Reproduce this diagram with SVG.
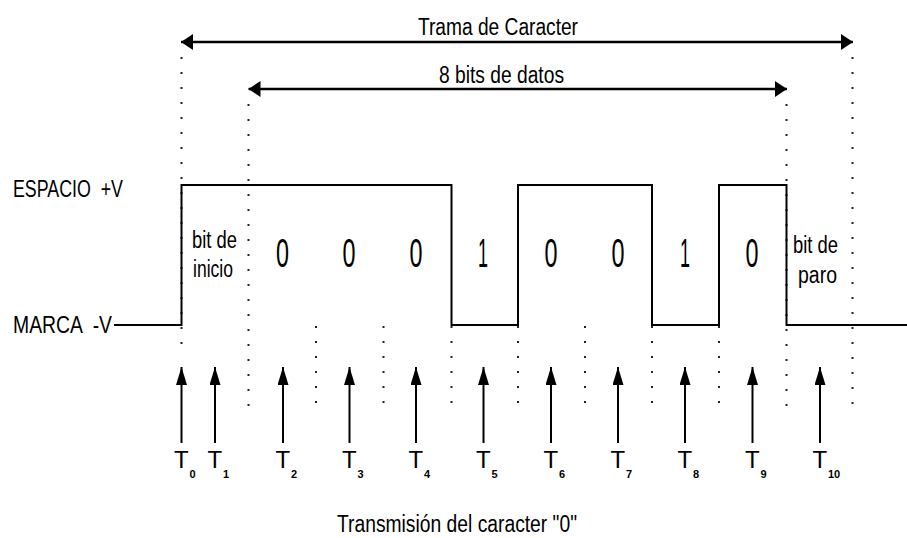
<svg xmlns="http://www.w3.org/2000/svg" width="907" height="538" viewBox="0 0 907 538">
<defs>
<marker id="hArrow" markerUnits="userSpaceOnUse" markerWidth="14" markerHeight="18" refX="12" refY="8" orient="auto-start-reverse" viewBox="0 0 14 18">
<path d="M0,0 L12,8 L0,16 Z" fill="#000"/>
</marker>
<marker id="vArrow" markerUnits="userSpaceOnUse" markerWidth="20" markerHeight="12" refX="18" refY="5.5" orient="auto" viewBox="0 0 20 12">
<path d="M0,0 L18,5.5 L0,11 Z" fill="#000"/>
</marker>
<style>
.txt{font-family:"Liberation Sans",Arial,sans-serif;fill:#000}
.lbl{font-size:23px}
.dig{font-size:40px;text-anchor:middle}
.tt{font-size:24px}
.sub{font-size:11px;font-weight:bold}
.dot{stroke:#222;stroke-width:2;stroke-dasharray:2 13;fill:none}
.sig{stroke:#000;stroke-width:2;fill:none}
.dim{stroke:#000;stroke-width:2.5;fill:none}
.tarr{stroke:#000;stroke-width:2;fill:none;marker-end:url(#vArrow)}
</style>
</defs>
<rect width="907" height="538" fill="#fff"/>

<g id="guides">
<line class="dot" x1="181.5" y1="57" x2="181.5" y2="356"/>
<line class="dot" x1="248.5" y1="104" x2="248.5" y2="416"/>
<line class="dot" x1="316" y1="326" x2="316" y2="416"/>
<line class="dot" x1="383.5" y1="326" x2="383.5" y2="416"/>
<line class="dot" x1="451.5" y1="326" x2="451.5" y2="416"/>
<line class="dot" x1="518" y1="326" x2="518" y2="416"/>
<line class="dot" x1="585" y1="326" x2="585" y2="416"/>
<line class="dot" x1="652" y1="326" x2="652" y2="416"/>
<line class="dot" x1="719" y1="326" x2="719" y2="416"/>
<line class="dot" x1="786.5" y1="104" x2="786.5" y2="416"/>
<line class="dot" x1="852.5" y1="57" x2="852.5" y2="412"/>
</g>

<g id="trama">
<line class="dim" x1="181" y1="42" x2="853" y2="42" marker-start="url(#hArrow)" marker-end="url(#hArrow)"/>
<text class="txt lbl" x="418" y="35" textLength="160" lengthAdjust="spacingAndGlyphs">Trama de Caracter</text>
</g>

<g id="databits">
<line class="dim" x1="248.5" y1="89" x2="787" y2="89" marker-start="url(#hArrow)" marker-end="url(#hArrow)"/>
<text class="txt lbl" x="439" y="83" textLength="125" lengthAdjust="spacingAndGlyphs">8 bits de datos</text>
</g>

<g id="levels">
<text class="txt lbl" x="13" y="197" xml:space="preserve" textLength="110" lengthAdjust="spacingAndGlyphs">ESPACIO  +V</text>
<text class="txt lbl" x="13" y="333" xml:space="preserve" textLength="99" lengthAdjust="spacingAndGlyphs">MARCA  -V</text>
</g>

<g id="signal">
<polyline class="sig" points="114,325 181.5,325 181.5,185 451.5,185 451.5,325 518,325 518,185 652,185 652,325 719,325 719,185 786.5,185 786.5,325 907,325"/>
</g>

<g id="bits">
<text class="txt lbl" x="192" y="248" textLength="45" lengthAdjust="spacingAndGlyphs">bit de</text>
<text class="txt lbl" x="193" y="277" textLength="40" lengthAdjust="spacingAndGlyphs">inicio</text>
<text class="txt dig" x="282.5" y="267" textLength="13" lengthAdjust="spacingAndGlyphs">0</text>
<text class="txt dig" x="349" y="267" textLength="13" lengthAdjust="spacingAndGlyphs">0</text>
<text class="txt dig" x="416" y="267" textLength="13" lengthAdjust="spacingAndGlyphs">0</text>
<text class="txt dig" x="483" y="267" textLength="10" lengthAdjust="spacingAndGlyphs">1</text>
<text class="txt dig" x="551" y="267" textLength="13" lengthAdjust="spacingAndGlyphs">0</text>
<text class="txt dig" x="618" y="267" textLength="13" lengthAdjust="spacingAndGlyphs">0</text>
<text class="txt dig" x="685" y="267" textLength="10" lengthAdjust="spacingAndGlyphs">1</text>
<text class="txt dig" x="752" y="267" textLength="13" lengthAdjust="spacingAndGlyphs">0</text>
<text class="txt lbl" x="793" y="253" textLength="45" lengthAdjust="spacingAndGlyphs">bit de</text>
<text class="txt lbl" x="798" y="283" textLength="39" lengthAdjust="spacingAndGlyphs">paro</text>
</g>

<g id="timing">
<line class="tarr" x1="181.5" y1="443" x2="181.5" y2="367"/>
<line class="tarr" x1="215" y1="443" x2="215" y2="367"/>
<line class="tarr" x1="283" y1="443" x2="283" y2="367"/>
<line class="tarr" x1="349.5" y1="443" x2="349.5" y2="367"/>
<line class="tarr" x1="416" y1="443" x2="416" y2="367"/>
<line class="tarr" x1="483.5" y1="443" x2="483.5" y2="367"/>
<line class="tarr" x1="551" y1="443" x2="551" y2="367"/>
<line class="tarr" x1="618" y1="443" x2="618" y2="367"/>
<line class="tarr" x1="685" y1="443" x2="685" y2="367"/>
<line class="tarr" x1="752.5" y1="443" x2="752.5" y2="367"/>
<line class="tarr" x1="820" y1="443" x2="820" y2="367"/>
</g>

<g id="tlabels">
<text class="txt tt" x="174" y="468">T<tspan class="sub" x="189.5" y="478">0</tspan></text>
<text class="txt tt" x="207.5" y="468">T<tspan class="sub" x="223" y="478">1</tspan></text>
<text class="txt tt" x="275.5" y="468">T<tspan class="sub" x="291" y="478">2</tspan></text>
<text class="txt tt" x="342" y="468">T<tspan class="sub" x="357.5" y="478">3</tspan></text>
<text class="txt tt" x="408.5" y="468">T<tspan class="sub" x="424" y="478">4</tspan></text>
<text class="txt tt" x="476" y="468">T<tspan class="sub" x="491.5" y="478">5</tspan></text>
<text class="txt tt" x="543.5" y="468">T<tspan class="sub" x="559" y="478">6</tspan></text>
<text class="txt tt" x="610.5" y="468">T<tspan class="sub" x="626" y="478">7</tspan></text>
<text class="txt tt" x="677.5" y="468">T<tspan class="sub" x="693" y="478">8</tspan></text>
<text class="txt tt" x="745" y="468">T<tspan class="sub" x="760.5" y="478">9</tspan></text>
<text class="txt tt" x="812.5" y="468">T<tspan class="sub" x="828" y="478">10</tspan></text>
</g>

<g id="caption">
<text class="txt lbl" x="337" y="532" textLength="240" lengthAdjust="spacingAndGlyphs">Transmisión del caracter "0"</text>
</g>
</svg>
